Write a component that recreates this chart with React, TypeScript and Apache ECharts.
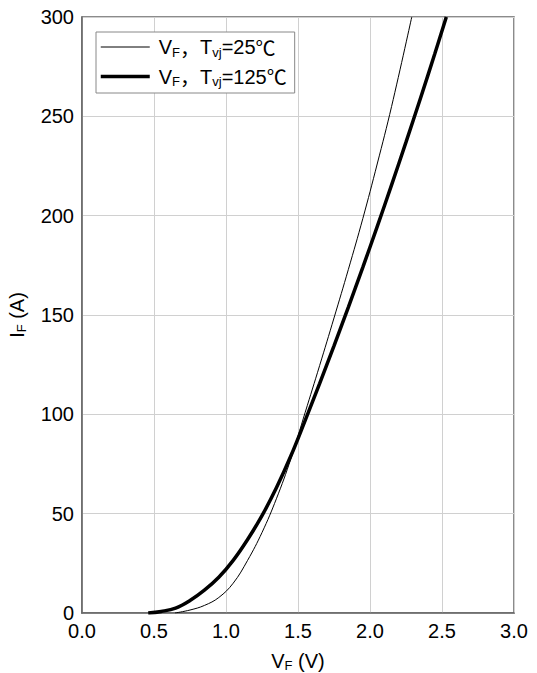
import React, { useEffect, useRef } from "react";
import * as echarts from "echarts";

const NAME_25 = "VF，Tvj=25℃";
const NAME_125 = "VF，Tvj=125℃";

const vf25 = [0.646, 0.75, 0.85, 0.95, 1.05, 1.15, 1.25, 1.35, 1.45, 1.55, 1.65, 1.75, 1.85, 1.95, 2.05, 2.15, 2.29];
const if25 = [0, 1.5, 3.8, 7.8, 15, 26.5, 40.5, 57.5, 77.5, 101, 124.5, 148.5, 173, 198.5, 226, 255, 300];

const vf125 = [0.46, 0.55, 0.65, 0.75, 0.85, 0.95, 1.05, 1.15, 1.25, 1.35, 1.45, 1.55, 1.65, 1.75, 1.85, 1.95, 2.05, 2.15, 2.25, 2.35, 2.45, 2.53];
const if125 = [0, 0.8, 2.5, 6.3, 11.5, 18, 26.5, 37, 49, 63, 79, 97, 115.5, 134.5, 154, 174, 194.5, 215.5, 237, 259, 281.5, 300];

const xTicks = [0, 0.5, 1.0, 1.5, 2.0, 2.5, 3.0];

const FONT = "'Liberation Sans', Arial, 'Noto Sans CJK SC', sans-serif";
const CJK = "'Noto Sans CJK SC', sans-serif";

export default function App() {
  const ref = useRef<HTMLDivElement>(null);
  useEffect(() => {
    if (!ref.current) return;
    const chart = echarts.init(ref.current, undefined, { renderer: "svg" });
    const sub = { fontSize: 13, fontFamily: FONT, color: "#000", padding: [10, 0, 0, 0] };
    const cjk = { fontSize: 20, fontFamily: CJK, color: "#000" };
    const base = { fontSize: 20, fontFamily: FONT, color: "#000" };
    chart.setOption({
      animation: false,
      backgroundColor: "#fff",
      grid: {
        left: 82,
        right: 23,
        top: 17,
        bottom: 60,
        show: true,
        borderColor: "#666",
        borderWidth: 1.5,
        containLabel: false,
        outerBoundsMode: "none",
      },
      legend: {
        orient: "vertical",
        left: 96,
        top: 32,
        padding: [5, 8, 5, 3],
        itemGap: 8,
        itemWidth: 49,
        itemHeight: 14,
        borderColor: "#888",
        borderWidth: 1,
        backgroundColor: "#fff",
        itemStyle: { opacity: 0, borderWidth: 0 },
        data: [
          { name: NAME_25, lineStyle: { width: 1, color: "#000" } },
          { name: NAME_125, lineStyle: { width: 3.5, color: "#000" } },
        ],
        formatter: (name: string) =>
          name === NAME_25
            ? "V{sub|F}{c|，}T{sub|vj}=25{c|℃}"
            : "V{sub|F}{c|，}T{sub|vj}=125{c|℃}",
        textStyle: { ...base, padding: [0, 0, 0, 4], rich: { sub, c: cjk } },
      },
      xAxis: {
        type: "value",
        min: 0,
        max: 3,
        interval: 0.5,
        name: "V{sub|F} (V)",
        nameLocation: "middle",
        nameGap: 36,
        nameTextStyle: { ...base, rich: { sub } },
        axisLine: { show: true, lineStyle: { color: "#666", width: 1.5 } },
        axisTick: { show: false },
        axisLabel: {
          ...base,
          margin: 8,
          formatter: (v: number) => (xTicks.includes(v) ? v.toFixed(1) : ""),
        },
        splitLine: { show: true, lineStyle: { color: "#d0d0d0", width: 1 } },
      },
      yAxis: {
        type: "value",
        min: 0,
        max: 300,
        interval: 50,
        name: "I{sub|F} (A)",
        nameLocation: "middle",
        nameGap: 54,
        nameRotate: 90,
        nameTextStyle: { ...base, rich: { sub } },
        axisLine: { show: true, lineStyle: { color: "#666", width: 1.5 } },
        axisTick: { show: false },
        axisLabel: { ...base, margin: 8 },
        splitLine: { show: true, lineStyle: { color: "#d0d0d0", width: 1 } },
      },
      series: [
        {
          name: NAME_25,
          type: "line",
          data: vf25.map((v, i) => [v, if25[i]]),
          smooth: 0.4,
          symbol: "none",
          clip: true,
          lineStyle: { color: "#000", width: 1 },
          itemStyle: { color: "#000" },
        },
        {
          name: NAME_125,
          type: "line",
          data: vf125.map((v, i) => [v, if125[i]]),
          smooth: 0.4,
          symbol: "none",
          clip: true,
          lineStyle: { color: "#000", width: 3.5 },
          itemStyle: { color: "#000" },
        },
      ],
    });
    return () => chart.dispose();
  }, []);
  return <div ref={ref} style={{ width: 537, height: 673, position: "absolute", left: 0, top: 0 }} />;
}
